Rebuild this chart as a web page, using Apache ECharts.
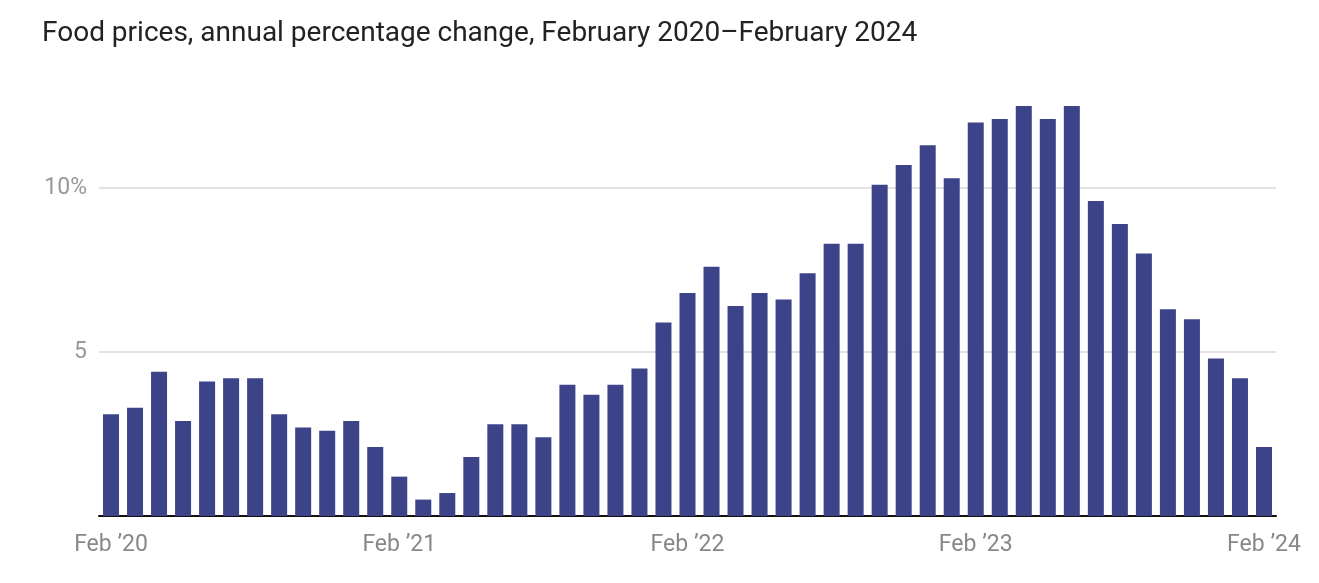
<!DOCTYPE html>
<html>
<head>
<meta charset="utf-8">
<script src="https://cdn.jsdelivr.net/npm/echarts@6/dist/echarts.min.js"></script>
<style>
html,body{margin:0;padding:0;background:#fff;}
#chart{width:1319px;height:583px;}
</style>
</head>
<body>
<div id="chart"></div>
<script>
const titleText = 'Food prices, annual percentage change, February 2020\u2013February 2024';
const months = ['Feb 2020','Mar 2020','Apr 2020','May 2020','Jun 2020','Jul 2020','Aug 2020','Sep 2020','Oct 2020','Nov 2020','Dec 2020','Jan 2021',
  'Feb 2021','Mar 2021','Apr 2021','May 2021','Jun 2021','Jul 2021','Aug 2021','Sep 2021','Oct 2021','Nov 2021','Dec 2021','Jan 2022',
  'Feb 2022','Mar 2022','Apr 2022','May 2022','Jun 2022','Jul 2022','Aug 2022','Sep 2022','Oct 2022','Nov 2022','Dec 2022','Jan 2023',
  'Feb 2023','Mar 2023','Apr 2023','May 2023','Jun 2023','Jul 2023','Aug 2023','Sep 2023','Oct 2023','Nov 2023','Dec 2023','Jan 2024',
  'Feb 2024'];
const foodInflation = [3.1,3.3,4.4,2.9,4.1,4.2,4.2,3.1,2.7,2.6,2.9,2.1,
  1.2,0.5,0.7,1.8,2.8,2.8,2.4,4.0,3.7,4.0,4.5,5.9,
  6.8,7.6,6.4,6.8,6.6,7.4,8.3,8.3,10.1,10.7,11.3,10.3,
  12.0,12.1,12.5,12.1,12.5,9.6,8.9,8.0,6.3,6.0,4.8,4.2,
  2.1];
const xTickLabels = {'Feb 2020':'Feb \u201920','Feb 2021':'Feb \u201921','Feb 2022':'Feb \u201922','Feb 2023':'Feb \u201923','Feb 2024':'Feb \u201924'};
const yTickLabels = {5:'5',10:'10%'};

const chart = echarts.init(document.getElementById('chart'), null, {renderer:'canvas'});
chart.setOption({
  animation:false,
  backgroundColor:'#fff',
  textStyle:{fontFamily:'Roboto'},
  title:{
    text:titleText,
    left:37, top:15,
    textStyle:{fontFamily:'Roboto',fontSize:28,fontWeight:'normal',color:'#222'}
  },
  grid:{left:99,right:43,top:89.6,bottom:67,containLabel:false},
  xAxis:{
    type:'category',
    data:months,
    boundaryGap:true,
    axisLine:{show:true,lineStyle:{color:'#111',width:2}},
    axisTick:{show:false},
    axisLabel:{
      interval:0,
      margin:18,
      color:'#888',
      fontSize:23,
      fontFamily:'Roboto',
      formatter:function(v){return xTickLabels[v]||'';}
    },
    splitLine:{show:false}
  },
  yAxis:{
    type:'value',
    min:0,max:13,interval:5,
    axisLine:{show:false},
    axisTick:{show:false},
    axisLabel:{
      margin:12,
      color:'#999',
      fontSize:23,
      fontFamily:'Roboto',
      showMinLabel:false,
      showMaxLabel:false,
      formatter:function(v){return yTickLabels[v]||'';}
    },
    splitLine:{show:true,showMaxLine:false,showMinLine:false,lineStyle:{color:'#e3e3e3',width:2}}
  },
  series:[{
    type:'bar',
    data:foodInflation,
    barWidth:16,
    itemStyle:{color:'#3c4389'}
  }]
});
</script>
</body>
</html>
